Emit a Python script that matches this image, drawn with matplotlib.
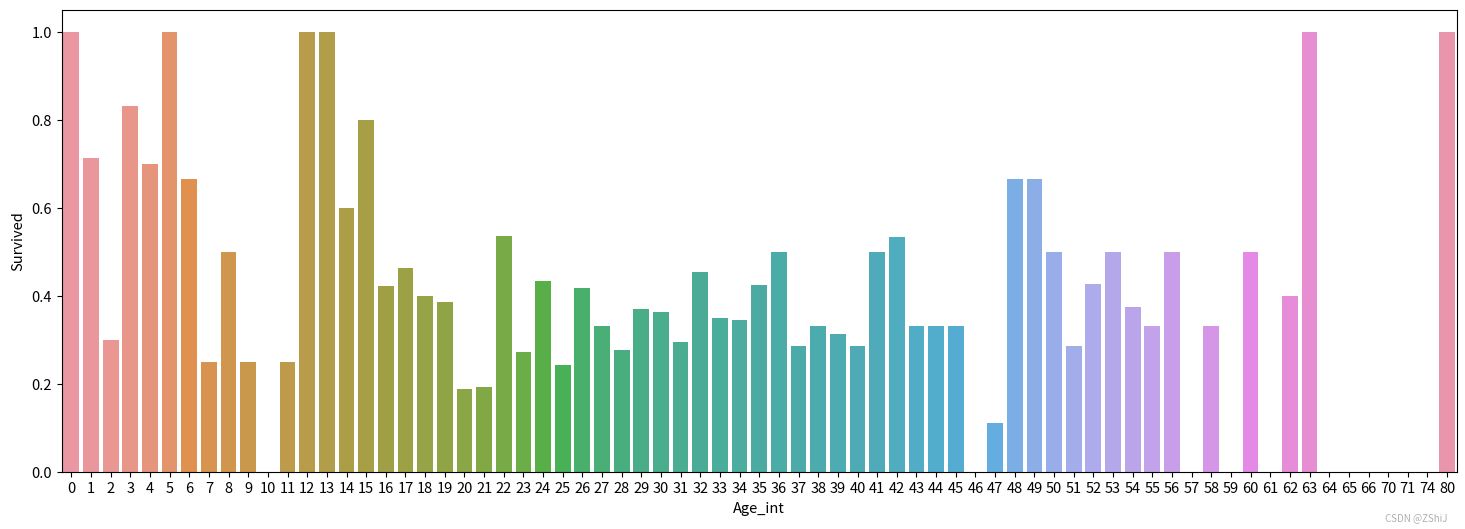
import matplotlib
matplotlib.use("Agg")
import matplotlib.pyplot as plt
import seaborn as sns

ages = list(range(0, 64)) + [64, 65, 66, 70, 71, 74, 80]
survived = [
    1.0, 0.714, 0.300, 0.833, 0.700, 1.0, 0.667, 0.25, 0.5, 0.25,
    0.0, 0.25, 1.0, 1.0, 0.6, 0.8, 0.423, 0.464, 0.4, 0.387,
    0.189, 0.193, 0.536, 0.273, 0.434, 0.243, 0.420, 0.333, 0.278, 0.370,
    0.364, 0.295, 0.455, 0.350, 0.347, 0.425, 0.5, 0.286, 0.333, 0.314,
    0.286, 0.5, 0.535, 0.333, 0.333, 0.333, 0.0, 0.111, 0.667, 0.667,
    0.5, 0.286, 0.429, 0.5, 0.375, 0.333, 0.5, 0.0, 0.333, 0.0,
    0.5, 0.0, 0.4, 1.0, 0.0, 0.0, 0.0, 0.0, 0.0, 0.0, 1.0,
]

plt.rcParams['font.family'] = ['Noto Sans CJK SC', 'DejaVu Sans']

fig = plt.figure(figsize=(14.65, 5.29), dpi=100)
ax = fig.add_axes([0.042, 0.1072, 0.9525, 0.8733])

colors = [sns.desaturate(c, 0.75) for c in sns.husl_palette(len(ages), l=.7)]
pos = list(range(len(ages)))
ax.bar(pos, survived, width=0.8, color=colors)
ax.set_xticks(pos)
ax.set_xticklabels([str(a) for a in ages], fontsize=10.5)
ax.tick_params(axis='y', labelsize=10.5)
ax.set_xlim(-0.5, len(ages) - 0.5)
ax.set_ylim(0, 1.05)
ax.set_yticks([0.0, 0.2, 0.4, 0.6, 0.8, 1.0])
ax.set_xlabel('Age_int', fontsize=10.5)
ax.set_ylabel('Survived', fontsize=10.5)

fig.text(0.988, 0.012, 'CSDN @ZShiJ', color='#b0b0b0', fontsize=7, ha='right', va='bottom')

fig.savefig('out.png', dpi=100)
